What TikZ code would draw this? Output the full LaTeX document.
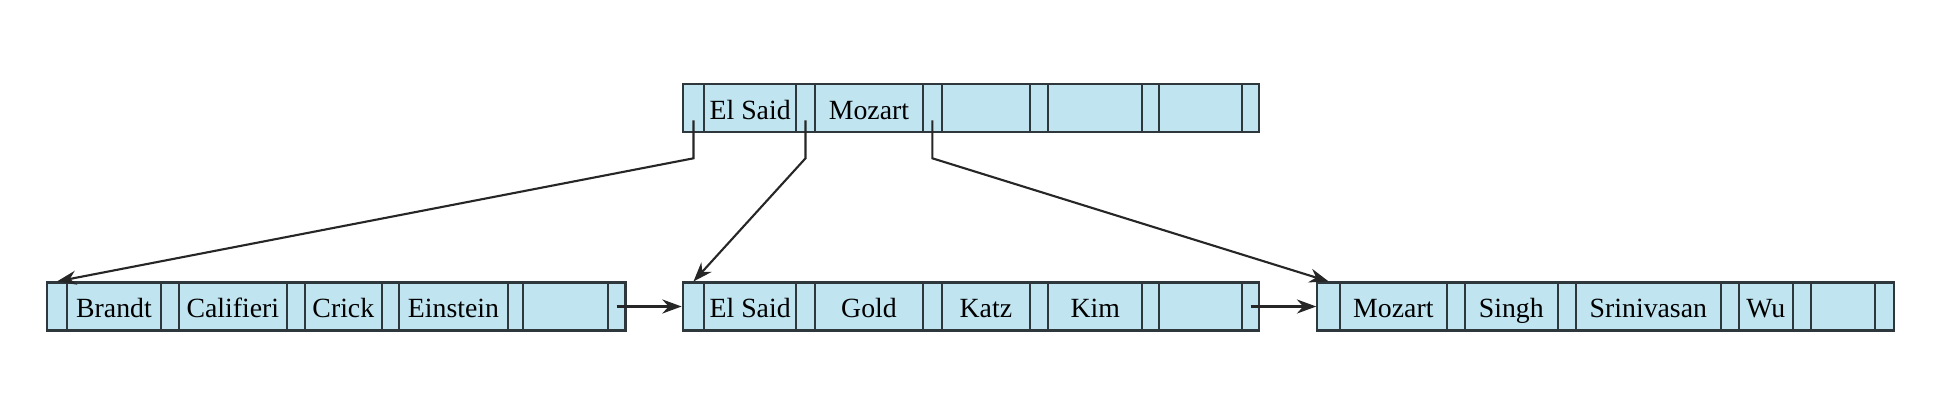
\documentclass[tikz,border=0pt]{standalone}
\usepackage{fontspec}
\setmainfont{Liberation Serif}
\usetikzlibrary{arrows.meta}
\definecolor{cellblue}{RGB}{192,228,240}
\definecolor{edgegray}{RGB}{45,55,60}

\begin{document}
\begin{tikzpicture}[
       x=0.01cm, y=-0.01cm,
       cell/.style={
         draw=edgegray,
         fill=cellblue,
         line width=0.6pt,
         inner sep=0pt,
         minimum height=0.48cm,
         text height=7.2pt,
         text depth=1pt,
         font=\fontsize{7.9}{9}\selectfont
       },
       link/.style={
         draw=black!85,
         line width=0.6pt,
         -{Stealth[length=5.5pt,width=4pt]}
       }
     ]
       \useasboundingbox (0,0) rectangle (1950,400);

       % root node
       \foreach \a/\b/\txt [count=\i] in {682.7/704.3/{}, 704.3/796/El Said, 796/815/{}, 815/923/Mozart,
           923/941.7/{}, 941.7/1030/{}, 1030/1048.3/{}, 1048.3/1142.3/{}, 1142.3/1159.3/{},
           1159.3/1241.7/{}, 1241.7/1259.3/{}}
         \node (t\i) at ({(\a+\b)/2},108.3) [cell,minimum width={(\b-\a)*0.01cm}] {\txt};

       % leaves
       \foreach \a/\b/\txt [count=\i] in {46.7/67.3/{}, 67.3/160.7/Brandt, 160.7/179/{}, 179/286.7/Califieri,
           286.7/305/{}, 305/381.7/Crick, 381.7/399.3/{}, 399.3/507.7/Einstein, 507.7/523.3/{},
           523.3/607.9/{}, 607.9/625.5/{}}
         \node (l\i) at ({(\a+\b)/2},306.5) [cell,minimum width={(\b-\a)*0.01cm}] {\txt};
       \foreach \a/\b/\txt [count=\i] in {682.7/704.3/{}, 704.3/796/El Said, 796/815/{}, 815/923/Gold,
           923/941.7/{}, 941.7/1030/Katz, 1030/1048.3/{}, 1048.3/1142.3/Kim, 1142.3/1159.3/{},
           1159.3/1241.7/{}, 1241.7/1259.3/{}}
         \node (m\i) at ({(\a+\b)/2},306.5) [cell,minimum width={(\b-\a)*0.01cm}] {\txt};
       \foreach \a/\b/\txt [count=\i] in {1317.3/1340/{}, 1340/1446.7/Mozart, 1446.7/1465/{}, 1465/1557.7/Singh,
           1557.7/1576/{}, 1576/1720.7/Srinivasan, 1720.7/1739/{}, 1739/1792.7/Wu, 1792.7/1811/{},
           1811/1875/{}, 1875/1894/{}}
         \node (r\i) at ({(\a+\b)/2},306.5) [cell,minimum width={(\b-\a)*0.01cm}] {\txt};

       \draw[link] (t1.center) ++(0,12) -- ++(0,38) -- (l1.north);
       \draw[link] (t3.center) ++(0,12) -- ++(0,38) -- (m1.north);
       \draw[link] (t5.center) ++(0,12) -- ++(0,38) -- (r1.north);

       \draw[link] (l11.center) -- (m1.west);
       \draw[link] (m11.center) -- (r1.west);

\end{tikzpicture}
\end{document}
